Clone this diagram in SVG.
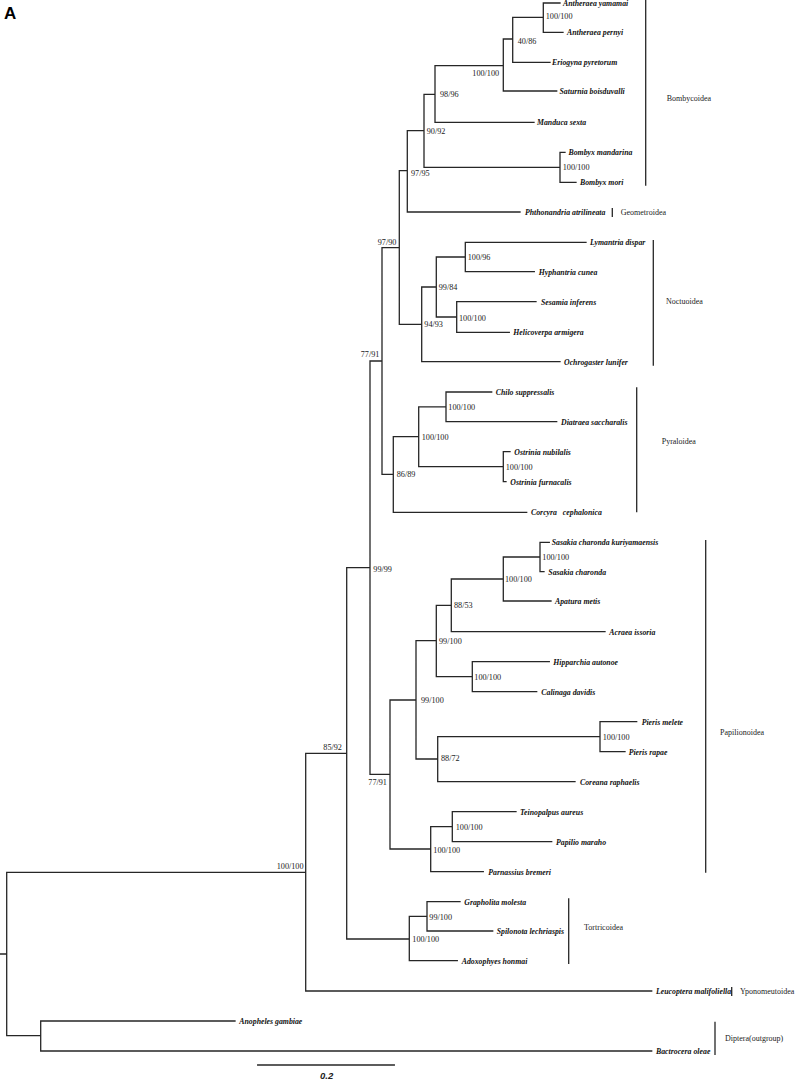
<svg xmlns="http://www.w3.org/2000/svg" width="800" height="1079" viewBox="0 0 800 1079">
<style>
.br{fill:none;stroke:#262626;stroke-width:1.3;stroke-linecap:square}
.bk{fill:none;stroke:#262626;stroke-width:1.3}
.sp{font-family:"Liberation Serif","Times New Roman",serif;font-size:7.8px;font-weight:bold;font-style:italic;fill:#111}
.bs{font-family:"Liberation Serif","Times New Roman",serif;font-size:8.2px;fill:#222}
.cl{font-family:"Liberation Serif","Times New Roman",serif;font-size:8px;fill:#222}
</style>
<rect width="800" height="1079" fill="#fff"/>
<text x="4" y="19" font-family="Liberation Sans,Arial,sans-serif" font-size="17" font-weight="bold" fill="#000">A</text>

<g id="connectors">
<path class="br" d="M0 954H6.7M6.7 872.3V1035.7M6.7 872.3H305.7M6.7 1035.7H40.7
M40.7 1021V1051M40.7 1021H235M40.7 1051H651.7
M305.7 753.3V991M305.7 753.3H346.7M305.7 991H651.7
M346.7 567.7V939M346.7 567.7H370M346.7 939H409.3
M409.3 916.3V960.7M409.3 916.3H427M409.3 960.7H457.3
M427 901.7V931M427 901.7H460M427 931H492.7
M370 361V774.3M370 361H382M370 774.3H390
M390 700V849M390 700H416M390 849H430.7
M430.7 826.7V871.7M430.7 826.7H452.3M430.7 871.7H483.3
M452.3 811.7V841.7M452.3 811.7H516M452.3 841.7H551.7
M416 640.7V759M416 640.7H436.3M416 759H437.7
M437.7 736.7V781.7M437.7 736.7H600M437.7 781.7H575
M600 721.7V751.7M600 721.7H636.7M600 751.7H625
M436.3 605.3V676.7M436.3 605.3H451.3M436.3 676.7H472.3
M472.3 661.7V691.7M472.3 661.7H549.3M472.3 691.7H536.7
M451.3 579V631.7M451.3 579H503.3M451.3 631.7H605
M503.3 557V601M503.3 557H540M503.3 601H551
M540 542.3V571.7M540 542.3H549.3M540 571.7H544
M382 247.7V474.3M382 247.7H399.3M382 474.3H393.3
M393.3 436.7V512.3M393.3 436.7H418.7M393.3 512.3H526.7
M418.7 406.8V466.7M418.7 406.8H446M418.7 466.7H503.3
M446 392V421.7M446 392H491.7M446 421.7H556.7
M503.3 451.7V481.7M503.3 451.7H510M503.3 481.7H506
M399.3 170.7V324.3M399.3 170.7H407.3M399.3 324.3H421.7
M421.7 287V361.7M421.7 287H436.3M421.7 361.7H560
M436.3 257V317M436.3 257H465.3M436.3 317H456.7
M465.3 242.3V271.7M465.3 242.3H586M465.3 271.7H534.3
M456.7 301.7V332.3M456.7 301.7H536M456.7 332.3H509.3
M407.3 130.7V212M407.3 130.7H424M407.3 212H520
M424 94.3V167.3M424 94.3H435M424 167.3H560
M560 152.3V182.3M560 152.3H565M560 182.3H576
M435 65.7V122.3M435 65.7H503.3M435 122.3H534
M503.3 39V91M503.3 39H512.7M503.3 91H556.7
M512.7 17.3V62.3M512.7 17.3H543.3M512.7 62.3H550
M543.3 3V32.3M543.3 3H560M543.3 32.3H563"/>
<path class="br" d="M257.7 1065H394.3"/>
</g>

<g id="leaves">
<g id="n-antheraea-yamamai"><text class="sp" x="563" y="5.8">Antheraea yamamai</text></g>
<g id="n-antheraea-pernyi"><text class="sp" x="567" y="35.1">Antheraea pernyi</text></g>
<g id="n-eriogyna"><text class="sp" x="552" y="65.1">Eriogyna pyretorum</text></g>
<g id="n-saturnia"><text class="sp" x="559.5" y="93.8">Saturnia boisduvalli</text></g>
<g id="n-manduca"><text class="sp" x="537" y="125.1">Manduca sexta</text></g>
<g id="n-bombyx-mandarina"><text class="sp" x="568.5" y="155.1">Bombyx mandarina</text></g>
<g id="n-bombyx-mori"><text class="sp" x="580" y="185.1">Bombyx mori</text></g>
<g id="n-phthonandria"><text class="sp" x="525" y="214.8">Phthonandria atrilineata</text></g>
<g id="n-lymantria"><text class="sp" x="590" y="245.1">Lymantria dispar</text></g>
<g id="n-hyphantria"><text class="sp" x="538.7" y="274.5">Hyphantria cunea</text></g>
<g id="n-sesamia"><text class="sp" x="541" y="304.5">Sesamia inferens</text></g>
<g id="n-helicoverpa"><text class="sp" x="513.3" y="335.1">Helicoverpa armigera</text></g>
<g id="n-ochrogaster"><text class="sp" x="564" y="364.5">Ochrogaster lunifer</text></g>
<g id="n-chilo"><text class="sp" x="495.7" y="394.8">Chilo suppressalis</text></g>
<g id="n-diatraea"><text class="sp" x="561" y="424.5">Diatraea saccharalis</text></g>
<g id="n-ostrinia-nubilalis"><text class="sp" x="514.3" y="454.5">Ostrinia nubilalis</text></g>
<g id="n-ostrinia-furnacalis"><text class="sp" x="510.3" y="484.5">Ostrinia furnacalis</text></g>
<g id="n-corcyra"><text class="sp" x="531" y="515.1" xml:space="preserve" style="white-space:pre">Corcyra   cephalonica</text></g>
<g id="n-sasakia-k"><text class="sp" x="551.7" y="545.1">Sasakia charonda kuriyamaensis</text></g>
<g id="n-sasakia"><text class="sp" x="548.3" y="574.5">Sasakia charonda</text></g>
<g id="n-apatura"><text class="sp" x="555" y="603.8">Apatura metis</text></g>
<g id="n-acraea"><text class="sp" x="609.3" y="634.5">Acraea issoria</text></g>
<g id="n-hipparchia"><text class="sp" x="553.3" y="664.5">Hipparchia autonoe</text></g>
<g id="n-calinaga"><text class="sp" x="541.3" y="694.5">Calinaga davidis</text></g>
<g id="n-pieris-melete"><text class="sp" x="641.7" y="724.5">Pieris melete</text></g>
<g id="n-pieris-rapae"><text class="sp" x="628.7" y="754.5">Pieris rapae</text></g>
<g id="n-coreana"><text class="sp" x="580" y="784.5">Coreana raphaelis</text></g>
<g id="n-teinopalpus"><text class="sp" x="520" y="814.5">Teinopalpus aureus</text></g>
<g id="n-papilio"><text class="sp" x="556" y="844.5">Papilio maraho</text></g>
<g id="n-parnassius"><text class="sp" x="488.3" y="874.5">Parnassius bremeri</text></g>
<g id="n-grapholita"><text class="sp" x="464.3" y="904.5">Grapholita molesta</text></g>
<g id="n-spilonota"><text class="sp" x="496.7" y="933.8">Spilonota lechriaspis</text></g>
<g id="n-adoxophyes"><text class="sp" x="461.7" y="963.5">Adoxophyes honmai</text></g>
<g id="n-leucoptera"><text class="sp" x="656" y="993.8">Leucoptera malifoliella</text></g>
<g id="n-anopheles"><text class="sp" x="239.3" y="1023.8">Anopheles gambiae</text></g>
<g id="n-bactrocera"><text class="sp" x="656" y="1053.8">Bactrocera oleae</text></g>
</g>

<g id="support">
<g id="s1"><text class="bs" x="545.7" y="18.7">100/100</text></g>
<g id="s2"><text class="bs" x="517.7" y="43.7">40/86</text></g>
<g id="s3"><text class="bs" x="472.3" y="76.3">100/100</text></g>
<g id="s4"><text class="bs" x="440" y="97.3">98/96</text></g>
<g id="s5"><text class="bs" x="562.7" y="169.7">100/100</text></g>
<g id="s6"><text class="bs" x="426.7" y="133.7">90/92</text></g>
<g id="s7"><text class="bs" x="411" y="176.3">97/95</text></g>
<g id="s8"><text class="bs" x="467.7" y="259.7">100/96</text></g>
<g id="s9"><text class="bs" x="459" y="320.7">100/100</text></g>
<g id="s10"><text class="bs" x="438.7" y="289.7">99/84</text></g>
<g id="s11"><text class="bs" x="424.3" y="327.3">94/93</text></g>
<g id="s12"><text class="bs" x="377.7" y="244.7">97/90</text></g>
<g id="s13"><text class="bs" x="448.3" y="409.7">100/100</text></g>
<g id="s14"><text class="bs" x="505.7" y="470">100/100</text></g>
<g id="s15"><text class="bs" x="421.7" y="440">100/100</text></g>
<g id="s16"><text class="bs" x="396.7" y="477.3">86/89</text></g>
<g id="s17"><text class="bs" x="360.7" y="357.3">77/91</text></g>
<g id="s18"><text class="bs" x="542.3" y="560.3">100/100</text></g>
<g id="s19"><text class="bs" x="505" y="582.3">100/100</text></g>
<g id="s20"><text class="bs" x="454" y="608.3">88/53</text></g>
<g id="s21"><text class="bs" x="474.3" y="679.7">100/100</text></g>
<g id="s22"><text class="bs" x="439" y="644">99/100</text></g>
<g id="s23"><text class="bs" x="602.7" y="739.7">100/100</text></g>
<g id="s24"><text class="bs" x="441" y="761.3">88/72</text></g>
<g id="s25"><text class="bs" x="421" y="703">99/100</text></g>
<g id="s26"><text class="bs" x="455.7" y="830">100/100</text></g>
<g id="s27"><text class="bs" x="433.3" y="853">100/100</text></g>
<g id="s28"><text class="bs" x="368.3" y="784.7">77/91</text></g>
<g id="s29"><text class="bs" x="373.3" y="572">99/99</text></g>
<g id="s30"><text class="bs" x="429.3" y="919.7">99/100</text></g>
<g id="s31"><text class="bs" x="412.3" y="942">100/100</text></g>
<g id="s32"><text class="bs" x="323.3" y="749.7">85/92</text></g>
<g id="s33"><text class="bs" x="276.7" y="869">100/100</text></g>
</g>

<g id="clades">
<g id="c-bombycoidea"><path class="bk" d="M645.7 0V185.7"/><text class="cl" x="666.7" y="101.3">Bombycoidea</text></g>
<g id="c-geometroidea"><path class="bk" d="M612.3 208V217" stroke-width="1.6"/><text class="cl" x="620.7" y="215">Geometroidea</text></g>
<g id="c-noctuoidea"><path class="bk" d="M653.3 240V365.7"/><text class="cl" x="666" y="304">Noctuoidea</text></g>
<g id="c-pyraloidea"><path class="bk" d="M636.7 387.3V512.3"/><text class="cl" x="661.7" y="444">Pyraloidea</text></g>
<g id="c-papilionoidea"><path class="bk" d="M705.7 540V872.7"/><text class="cl" x="720" y="734.7">Papilionoidea</text></g>
<g id="c-tortricoidea"><path class="bk" d="M568.7 898.3V964"/><text class="cl" x="584" y="929.7">Tortricoidea</text></g>
<g id="c-yponomeutoidea"><path class="bk" d="M731.7 987V996" stroke-width="1.6"/><text class="cl" x="740" y="994">Yponomeutoidea</text></g>
<g id="c-diptera"><path class="bk" d="M715 1021.7V1055"/><text class="cl" x="725" y="1040.7">Diptera(outgroup)</text></g>
</g>

<g id="scale"><text x="326.7" y="1078.5" text-anchor="middle" font-family="Liberation Sans,Arial,sans-serif" font-size="9.5" font-style="italic" font-weight="bold" fill="#222">0.2</text></g>
</svg>
